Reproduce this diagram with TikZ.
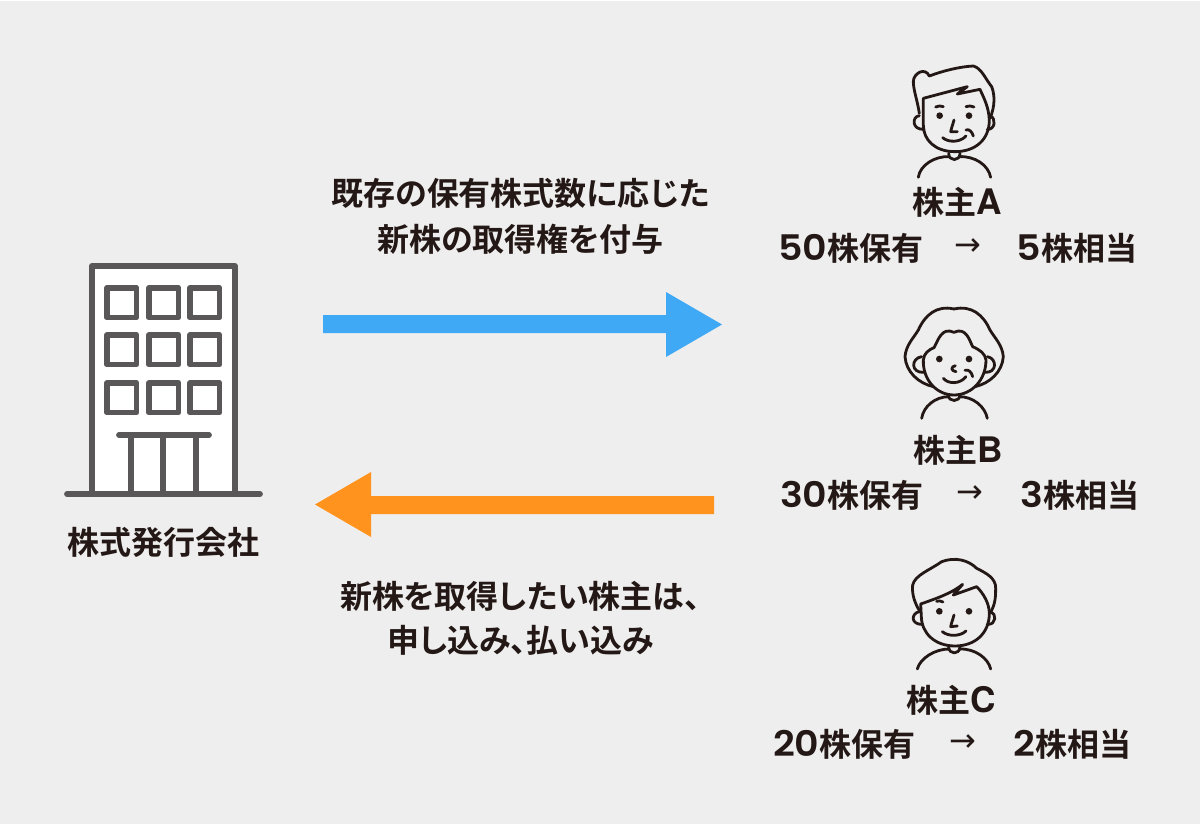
\documentclass[tikz,border=0pt]{standalone}
\usepackage{fontspec}
\setmainfont{Noto Sans CJK JP}[BoldFont={* Bold},RawFeature={+palt}]
\newfontfamily\digitf{Poppins}[Scale=1.1,FakeStretch=1.08,BoldFont={* SemiBold}]
\newfontfamily\letterf{TeX Gyre Heros}[Scale=1.1]
\newfontfamily\arrowf{DejaVu Sans}
\definecolor{bgc}{HTML}{EEEEEE}
\definecolor{ink}{HTML}{231815}
\definecolor{bldg}{HTML}{595757}
\definecolor{blueA}{HTML}{3FA9F5}
\definecolor{orangeA}{HTML}{FF931E}
\newcommand{\DG}[1]{{\digitf\bfseries #1}}
\newcommand{\LT}[1]{{\letterf\bfseries #1}}
\newcommand{\ARW}{{\arrowf\mdseries →}}
\tikzset{
  txt/.style={inner sep=0pt,outer sep=0pt,text=ink,font=\fontsize{32}{34}\selectfont\bfseries},
  bline/.style={draw=bldg,line width=5.8pt,line join=round,line cap=round},
  face/.style={draw=ink,line width=2.8pt,line cap=round,line join=round},
  eye/.style={fill=ink,draw=none}
}
\begin{document}
\begin{tikzpicture}[x=1pt,y=-1pt]
\useasboundingbox (0,0) rectangle (1200,825);
\fill[white] (0,0) rectangle (1200,825);
\fill[bgc] (0,1) rectangle (1200,824);

% building
\fill[white] (92,266) rectangle (235,494);
\draw[bline] (92,494) -- (92,266) -- (235,266) -- (235,494);
\draw[bline] (67,494) -- (260,494);
\foreach \x in {107,149,190}{\foreach \y in {288,335,383}{
  \draw[bline] (\x,\y) rectangle ++(29.5,29.5);
}}
\draw[bline] (119,435) -- (209,435);
\draw[bline] (131,435) -- (131,494);
\draw[bline] (163,435) -- (163,494);
\draw[bline] (196,435) -- (196,494);

% arrows
\fill[blueA] (323,315) -- (666,315) -- (666,292) -- (722,324.5) -- (666,357) -- (666,333) -- (323,333) -- cycle;
\fill[orangeA] (714,496) -- (371,496) -- (371,472) -- (315,504.5) -- (371,537) -- (371,514) -- (714,514) -- cycle;

% man A
\begin{scope}[shift={(880,50)},x=0.3333pt,y=-0.3333pt]
\draw[face] (118,190) .. controls (112,150) and (100,120) .. (100,95)
  .. controls (100,70) and (135,50) .. (148,78)
  .. controls (190,62) and (240,50) .. (280,48)
  .. controls (305,55) and (315,85) .. (335,110)
  .. controls (345,135) and (345,170) .. (330,205);
\draw[face] (130,145) -- (262,110) -- (232,132) -- (300,118)
  .. controls (312,145) and (326,170) .. (328,210)
  .. controls (328,270) and (285,305) .. (225,305)
  .. controls (165,305) and (130,270) .. (130,225) -- cycle;
\draw[face] (118,197) .. controls (95,200) and (95,240) .. (132,238);
\draw[face] (330,197) .. controls (350,205) and (345,240) .. (322,238);
\fill[eye] (179,197) circle (10);
\fill[eye] (267,197) circle (10);
\draw[face] (167,171) .. controls (175,167) and (182,167) .. (190,170);
\draw[face] (258,170) .. controls (266,167) and (274,167) .. (282,171);
\draw[face] (222,210) .. controls (218,225) and (214,235) .. (212,245) -- (232,245);
\draw[face] (188,263) .. controls (205,278) and (240,278) .. (258,258);
\draw[face] (258,240) .. controls (267,236) and (276,245) .. (280,258);
\draw[face] (206,310) .. controls (206,335) and (240,335) .. (240,310);
\draw[face] (115,382) .. controls (120,345) and (165,318) .. (207,320);
\draw[face] (238,320) .. controls (285,318) and (325,345) .. (332,382);
\end{scope}

% woman B
\begin{scope}[shift={(880,295)},x=0.3333pt,y=-0.3333pt]
\draw[face] (222,42) .. controls (170,30) and (135,60) .. (115,105)
  .. controls (100,130) and (78,150) .. (75,185)
  .. controls (78,230) and (115,265) .. (160,275);
\draw[face] (222,42) .. controls (275,30) and (310,60) .. (330,105)
  .. controls (345,130) and (367,150) .. (370,185)
  .. controls (367,230) and (330,265) .. (285,275);
\draw[face] (222,112) .. controls (185,95) and (175,135) .. (162,158)
  .. controls (145,165) and (132,175) .. (130,195)
  .. controls (128,255) and (170,300) .. (222,300)
  .. controls (275,300) and (318,255) .. (318,195)
  .. controls (315,175) and (300,165) .. (278,155)
  .. controls (268,135) and (258,95) .. (222,112) -- cycle;
\draw[face] (125,185) .. controls (92,190) and (92,235) .. (132,232);
\draw[face] (322,185) .. controls (352,190) and (352,235) .. (314,232);
\fill[eye] (178,192) circle (10);
\fill[eye] (267,192) circle (10);
\draw[face] (226,212) .. controls (212,215) and (212,228) .. (228,230);
\draw[face] (190,250) .. controls (205,268) and (240,268) .. (258,245);
\draw[face] (255,226) .. controls (266,222) and (275,232) .. (278,245);
\draw[face] (205,300) .. controls (205,322) and (240,322) .. (240,300);
\draw[face] (125,370) .. controls (130,335) and (165,305) .. (207,305);
\draw[face] (238,305) .. controls (280,305) and (315,335) .. (322,370);
\end{scope}

% boy C
\begin{scope}[shift={(880,545)},x=0.3333pt,y=-0.3333pt]
\draw[face] (120,200) .. controls (105,175) and (95,150) .. (98,120)
  .. controls (105,90) and (150,75) .. (185,50)
  .. controls (225,35) and (265,45) .. (290,70)
  .. controls (320,85) and (348,100) .. (347,130)
  .. controls (347,160) and (345,180) .. (330,205);
\draw[face] (122,177) .. controls (170,160) and (215,145) .. (248,118) -- (220,150) -- (290,125)
  .. controls (310,145) and (328,175) .. (328,205)
  .. controls (328,265) and (285,303) .. (225,303)
  .. controls (165,303) and (125,265) .. (124,215) -- cycle;
\draw[face] (118,200) .. controls (92,205) and (92,240) .. (128,238);
\draw[face] (332,200) .. controls (350,205) and (350,240) .. (322,238);
\fill[eye] (178,199) circle (10);
\fill[eye] (267,199) circle (10);
\draw[face] (170,169) .. controls (176,167) and (182,167) .. (189,171);
\draw[face] (222,210) .. controls (218,225) and (214,235) .. (212,245) -- (232,243);
\draw[face] (187,260) .. controls (205,275) and (240,275) .. (258,258);
\draw[face] (206,305) .. controls (206,330) and (240,330) .. (240,305);
\draw[face] (112,372) .. controls (120,340) and (165,312) .. (207,312);
\draw[face] (238,312) .. controls (285,310) and (325,340) .. (332,372);
\end{scope}

% texts
\node[txt] (t1) at (520.5,193) {既存の保有株式数に応じた};
\node[txt] (t2) at (520.5,239) {新株の取得権を付与};
\node[txt] (t3) at (163,542) {株式発行会社};
\node[txt,anchor=west] (t4) at (340,596) {新株を取得したい株主は、};
\node[txt] (t5) at (520.5,640) {申し込み、払い込み};

\node[txt] (a0) at (957,202) {株主\LT{A}};
\node[txt,anchor=west] (a1) at (778,248) {\DG{50}株保有};
\node[txt] (a2) at (968,247) {\ARW};
\node[txt,anchor=east] (a3) at (1137,248) {\DG{5}株相当};

\node[txt] (b0) at (958,450) {株主\LT{B}};
\node[txt,anchor=west] (b1) at (780,495) {\DG{30}株保有};
\node[txt] (b2) at (970,494) {\ARW};
\node[txt,anchor=east] (b3) at (1139,495) {\DG{3}株相当};

\node[txt] (c0) at (951,700) {株主\LT{C}};
\node[txt,anchor=west] (c1) at (773,744) {\DG{20}株保有};
\node[txt] (c2) at (963,743) {\ARW};
\node[txt,anchor=east] (c3) at (1131,744) {\DG{2}株相当};
\end{tikzpicture}
\end{document}
